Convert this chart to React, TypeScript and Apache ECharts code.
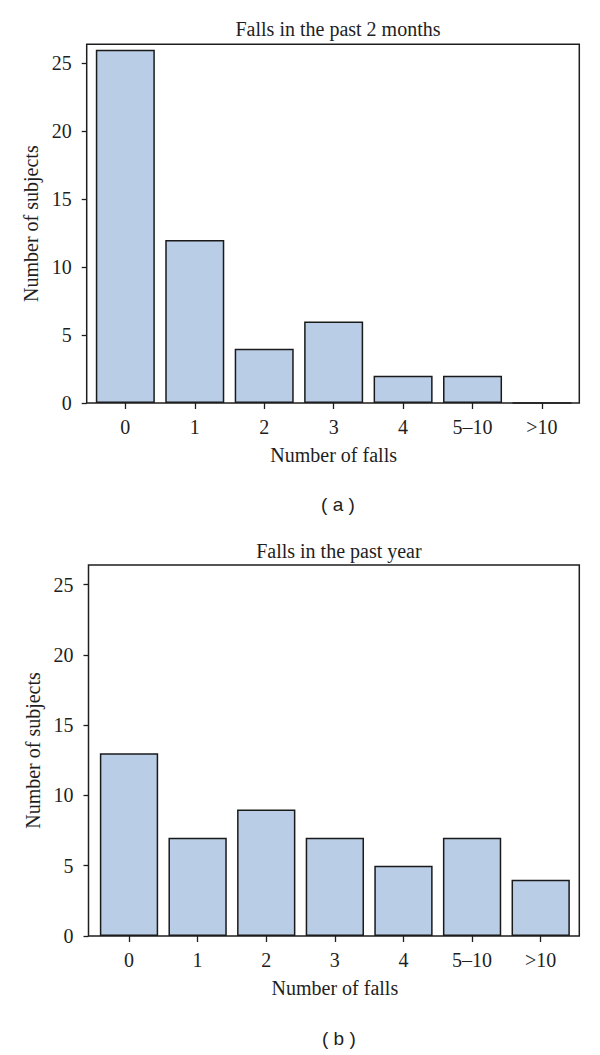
import React, { useEffect, useRef } from "react";
import * as echarts from "echarts";

const categories = ["0", "1", "2", "3", "4", "5–10", ">10"];
const pastTwoMonths = [26, 12, 4, 6, 2, 2, 0];
const pastYear = [13, 7, 9, 7, 5, 7, 4];
const yTicks = [0, 5, 10, 15, 20, 25];
const titles = ["Falls in the past 2 months", "Falls in the past year"];
const panelLabels = ["( a )", "( b )"];
const xName = "Number of falls";
const yName = "Number of subjects";

const SERIF = "'Liberation Serif', 'Times New Roman', serif";
const SANS = "'Liberation Sans', Arial, sans-serif";
const INK = "#1e1e1e";
const FS = 20;

// layout: frame boxes and inner band ranges
const panels = [
  { frame: { l: 86.7, t: 44.3, r: 579.3, b: 403 }, band: { l: 90.6, r: 576.7 }, titleTop: 14, labelTop: 490 },
  { frame: { l: 88.5, t: 565, r: 579.3, b: 936 }, band: { l: 94.7, r: 575 }, titleTop: 536, labelTop: 1024 },
];

export default function App() {
  const ref = useRef<HTMLDivElement>(null);
  useEffect(() => {
    if (!ref.current) return;
    const chart = echarts.init(ref.current, undefined, { renderer: "svg" });
    const data = [pastTwoMonths, pastYear];
    const option: any = {
      animation: false,
      backgroundColor: "#fff",
      title: panels.flatMap((p, i) => {
        const cx = (p.frame.l + p.frame.r) / 2;
        return [
          {
            text: titles[i],
            left: cx,
            top: p.titleTop,
            textAlign: "center",
            textStyle: { fontFamily: SERIF, fontSize: 20, fontWeight: "normal", color: INK },
          },
          {
            text: panelLabels[i],
            left: cx,
            top: p.labelTop,
            textAlign: "center",
            textStyle: { fontFamily: SANS, fontSize: 19, fontWeight: "normal", color: INK },
          },
        ];
      }),
      grid: panels.map((p) => ({
        left: p.band.l,
        width: p.band.r - p.band.l,
        top: p.frame.t,
        height: p.frame.b - p.frame.t,
        containLabel: false,
      })),
      xAxis: panels.map((p, i) => ({
        type: "category",
        gridIndex: i,
        data: categories,
        axisLine: { show: false },
        axisTick: { show: true, alignWithLabel: true, length: 6, lineStyle: { color: INK, width: 1.3 } },
        axisLabel: { fontFamily: SERIF, fontSize: FS, color: INK, margin: 14 },
        name: xName,
        nameLocation: "middle",
        nameGap: 42,
        nameTextStyle: { fontFamily: SERIF, fontSize: FS, color: INK },
      })),
      yAxis: panels.map((p, i) => ({
        type: "value",
        gridIndex: i,
        min: 0,
        max: 26.4,
        interval: 5,
        offset: p.band.l - p.frame.l,
        axisLine: { show: false },
        splitLine: { show: false },
        axisTick: { show: true, customValues: yTicks, length: 5, lineStyle: { color: INK, width: 1.3 } },
        axisLabel: { customValues: yTicks, fontFamily: SERIF, fontSize: FS, color: INK, margin: 15 },
        name: yName,
        nameLocation: "middle",
        nameRotate: 90,
        nameGap: 45,
        nameTextStyle: { fontFamily: SERIF, fontSize: FS, color: INK },
      })),
      series: data.map((d, i) => ({
        type: "bar",
        xAxisIndex: i,
        yAxisIndex: i,
        data: d,
        barCategoryGap: "15%",
        itemStyle: { color: "#b9cde6", borderColor: "#1a1a1a", borderWidth: 1.5 },
      })),
      graphic: panels.map((p) => ({
        type: "rect",
        z: 100,
        shape: { x: p.frame.l, y: p.frame.t, width: p.frame.r - p.frame.l, height: p.frame.b - p.frame.t },
        style: { fill: "none", stroke: INK, lineWidth: 1.5 },
      })),
    };
    chart.setOption(option);
    return () => chart.dispose();
  }, []);
  return (
    <div
      ref={ref}
      style={{ position: "absolute", left: 0, top: 0, width: 600, height: 1055, background: "#fff" }}
    />
  );
}
